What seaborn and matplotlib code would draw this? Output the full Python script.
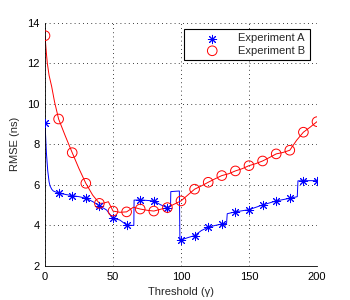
import numpy as np
import pandas as pd
import matplotlib
matplotlib.use('Agg')
import matplotlib.pyplot as plt
import seaborn as sns

# markers (every 10 units of threshold)
thr = [0, 10, 20, 30, 40, 50, 60, 70, 80, 90, 100,
       110, 120, 130, 140, 150, 160, 170, 180, 190, 200]
rmse_a = [9.07, 5.59, 5.47, 5.34, 4.98, 4.35, 4.02, 5.26, 5.21, 4.88, 3.28,
          3.50, 3.91, 4.07, 4.67, 4.78, 5.01, 5.21, 5.34, 6.21, 6.21]
rmse_b = [13.36, 9.25, 7.59, 6.08, 5.09, 4.71, 4.67, 4.81, 4.71, 4.88, 5.21,
          5.79, 6.13, 6.46, 6.69, 6.95, 7.18, 7.53, 7.71, 8.60, 9.12]

# dense curves
line_a_x = [0, 1, 2, 3, 3.7, 5, 6.1, 10, 15, 20, 25, 30, 35, 40, 45.3, 50, 55, 60, 65.3,
            65.5, 70, 80, 85, 90, 92.3, 92.5, 98.8, 99.2, 100, 105, 110, 115, 120, 125,
            130, 133.5, 134, 140, 150, 160, 170, 180, 185.5, 186, 190, 200]
line_a_y = [9.07, 7.6, 6.7, 6.15, 5.95, 5.78, 5.7, 5.59, 5.53, 5.47, 5.42, 5.34, 5.18, 4.98, 4.76,
            4.35, 4.27, 4.02, 4.0, 5.25, 5.26, 5.21, 5.02, 4.88, 4.95, 5.67, 5.7, 3.28, 3.28,
            3.4, 3.50, 3.75, 3.91, 4.0, 4.07, 4.1, 4.58, 4.67, 4.78, 5.01, 5.21, 5.34, 5.42,
            6.2, 6.21, 6.21]
line_b_x = [0, 1, 1.7, 3, 4.9, 7, 10, 15, 20, 25, 30, 35, 40, 43, 46.6, 50, 55, 60, 65,
            70, 75, 80, 85, 90, 95, 100, 105, 110, 115, 120, 125, 130, 135, 140, 145,
            150, 155, 160, 165, 170, 175, 180, 185, 190, 195, 200]
line_b_y = [13.36, 12.5, 12.0, 11.4, 10.85, 10.1, 9.25, 8.4, 7.59, 6.8, 6.08, 5.5, 5.09, 5.1,
            5.17, 4.71, 4.65, 4.67, 4.9, 4.81, 4.75, 4.71, 4.8, 4.88, 5.05, 5.21, 5.5, 5.79,
            5.95, 6.13, 6.3, 6.46, 6.55, 6.69, 6.8, 6.95, 7.05, 7.18, 7.35, 7.53, 7.6, 7.71,
            8.2, 8.60, 8.85, 9.12]

sns.set_style('white')
plt.rcParams['font.family'] = ['Liberation Sans', 'DejaVu Sans']
plt.rcParams['font.size'] = 8

fig = plt.figure(figsize=(3.5, 3.0), dpi=100)
ax = fig.add_axes([0.1286, 0.1133, 0.7771, 0.8110])

sns.lineplot(x=line_a_x, y=line_a_y, color='blue', lw=0.7, ax=ax, estimator=None, sort=False)
sns.lineplot(x=line_b_x, y=line_b_y, color='red', lw=0.7, ax=ax, estimator=None, sort=False)
sns.scatterplot(x=thr, y=rmse_a, marker=(8, 2, 0), s=36, color='blue',
                edgecolor='blue', linewidth=0.7, ax=ax, label='Experiment A', zorder=3)
sns.scatterplot(x=thr, y=rmse_b, marker='o', s=48, facecolor='none',
                edgecolor='red', linewidth=0.7, ax=ax, label='Experiment B', zorder=3)

ax.set_xlim(0, 200)
ax.set_ylim(2, 14)
ax.set_xticks([0, 50, 100, 150, 200])
ax.set_yticks([2, 4, 6, 8, 10, 12, 14])
ax.set_xlabel('Threshold (\u03b3)', labelpad=4)
ax.set_ylabel('RMSE (ns)', labelpad=5)
ax.tick_params(direction='in', length=3, width=0.6, colors='black', labelsize=8, pad=4)
ax.grid(True, color='black', lw=0.6, linestyle=(0, (1, 4)))
for s in ['top', 'right']:
    ax.spines[s].set_visible(False)
for s in ['left', 'bottom']:
    ax.spines[s].set_color('black')
    ax.spines[s].set_linewidth(0.6)

leg = ax.legend(loc='upper right', bbox_to_anchor=(0.974, 0.974), borderaxespad=0,
                fancybox=False, framealpha=1, edgecolor='black', fontsize=8,
                handletextpad=0.25, borderpad=0.4, labelspacing=0.2, handlelength=4.2)
leg.get_frame().set_linewidth(0.8)

fig.savefig('out.png', dpi=100)
